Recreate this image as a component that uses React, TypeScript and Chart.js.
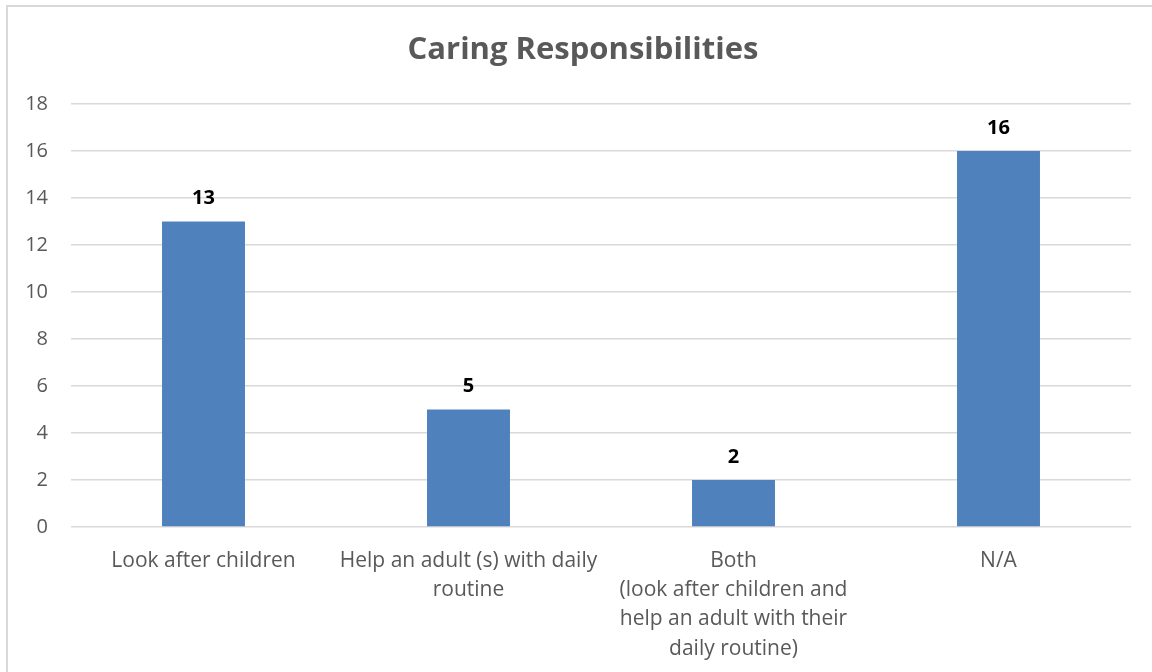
import React, { useEffect, useRef } from "react";
import { Chart, registerables } from "chart.js";

Chart.register(...registerables);

const categories: (string | string[])[] = [
  "Look after children",
  ["Help an adult (s) with daily", "routine"],
  ["Both", "(look after children and", "help an adult with their", "daily routine)"],
  "N/A",
];
const values = [13, 5, 2, 16];
const yTicks = [0, 2, 4, 6, 8, 10, 12, 14, 16, 18];
const titleText = "Caring Responsibilities";

const FONT = "'Open Sans', 'Liberation Sans', sans-serif";

const dataLabelPlugin = {
  id: "dataLabels",
  afterDatasetsDraw(chart: any) {
    const ctx = chart.ctx;
    const meta = chart.getDatasetMeta(0);
    ctx.save();
    ctx.font = `bold 20px ${FONT}`;
    ctx.fillStyle = "#000000";
    ctx.textAlign = "center";
    ctx.textBaseline = "middle";
    meta.data.forEach((bar: any, i: number) => {
      ctx.fillText(String(values[i]), bar.x, bar.y - 23);
    });
    ctx.restore();
  },
};

const titlePlugin = {
  id: "centeredTitle",
  afterDraw(chart: any) {
    const ctx = chart.ctx;
    ctx.save();
    ctx.font = `bold 31px ${FONT}`;
    ctx.fillStyle = "#595959";
    ctx.textAlign = "center";
    ctx.textBaseline = "middle";
    ctx.fillText(titleText, 583, 50);
    ctx.restore();
  },
};

export default function App() {
  const ref = useRef<HTMLCanvasElement | null>(null);
  useEffect(() => {
    document.body.style.margin = "0";
    const chart = new Chart(ref.current!, {
      type: "bar",
      data: {
        labels: categories,
        datasets: [
          {
            data: values,
            backgroundColor: "#4F81BD",
            borderWidth: 0,
            barPercentage: 0.313,
            categoryPercentage: 1,
          },
        ],
      },
      options: {
        animation: false,
        responsive: false,
        layout: { padding: { top: 104, right: 21, left: 0, bottom: 0 } },
        plugins: {
          legend: { display: false },
          tooltip: { enabled: false },
          title: { display: false },
        },
        scales: {
          x: {
            grid: { display: false, drawTicks: false },
            border: { display: false },
            ticks: {
              color: "#595959",
              font: { family: FONT, size: 21, lineHeight: 1.4 },
              padding: 19,
              maxRotation: 0,
              autoSkip: false,
            },
            afterFit: (s: any) => {
              s.height = 145;
            },
          },
          y: {
            min: 0,
            max: 18,
            afterBuildTicks: (s: any) => {
              s.ticks = yTicks.map((v) => ({ value: v }));
            },
            grid: { color: "#d9d9d9", lineWidth: 1.5, drawTicks: false },
            border: { display: false },
            ticks: {
              color: "#595959",
              font: { family: FONT, size: 20 },
              padding: 23,
            },
            afterFit: (s: any) => {
              s.width = 71;
            },
          },
        },
      },
      plugins: [dataLabelPlugin, titlePlugin],
    });
    return () => chart.destroy();
  }, []);
  return (
    <div style={{ position: "relative", width: 1152, height: 672, background: "#fff", overflow: "hidden" }}>
      <canvas ref={ref} width={1152} height={672} style={{ display: "block" }} />
      <div
        style={{
          position: "absolute",
          left: 6,
          top: 5,
          width: 1160,
          height: 680,
          border: "2px solid #d9d9d9",
          pointerEvents: "none",
        }}
      />
    </div>
  );
}
